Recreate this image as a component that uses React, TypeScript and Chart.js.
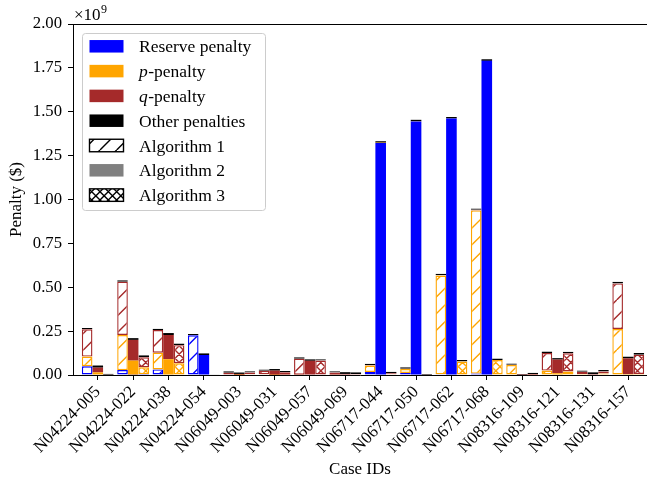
import React, { useEffect, useRef } from 'react';
import { Chart, registerables } from 'chart.js';

Chart.register(...registerables);

// ---------------- data ----------------
const caseIds = [
  'N04224-005', 'N04224-022', 'N04224-038', 'N04224-054',
  'N06049-003', 'N06049-031', 'N06049-057', 'N06049-069',
  'N06717-044', 'N06717-050', 'N06717-062', 'N06717-068',
  'N08316-109', 'N08316-121', 'N08316-131', 'N08316-157',
];
const algorithmNames = ['Algorithm 1', 'Algorithm 2', 'Algorithm 3'];
const componentNames = ['Reserve penalty', 'p-penalty', 'q-penalty', 'Other penalties'];

// Algorithm 1 ($)
const alg1Reserve = [0.050e9, 0.028e9, 0.032e9, 0.226e9, 0, 0, 0, 0, 0.017e9, 0.012e9, 0.004e9, 0.008e9, 0, 0, 0, 0];
const alg1P = [0.055e9, 0.200e9, 0.095e9, 0, 0.003e9, 0.004e9, 0.002e9, 0.002e9, 0.037e9, 0.022e9, 0.563e9, 0.930e9, 0.057e9, 0.025e9, 0.006e9, 0.262e9];
const alg1Q = [0.155e9, 0.304e9, 0.129e9, 0, 0.010e9, 0.020e9, 0.091e9, 0.012e9, 0.003e9, 0.002e9, 0.002e9, 0.003e9, 0.001e9, 0.100e9, 0.012e9, 0.260e9];
const alg1Other = [0.008e9, 0.008e9, 0.007e9, 0.007e9, 0.008e9, 0.008e9, 0.008e9, 0.008e9, 0.007e9, 0.008e9, 0.008e9, 0.008e9, 0.008e9, 0.009e9, 0.008e9, 0.009e9];

// Algorithm 2 ($)
const alg2Reserve = [0.003e9, 0.002e9, 0, 0.114e9, 0, 0, 0, 0, 1.322e9, 1.445e9, 1.462e9, 1.790e9, 0, 0, 0, 0];
const alg2P = [0.012e9, 0.080e9, 0.090e9, 0, 0.001e9, 0.001e9, 0, 0, 0.002e9, 0.001e9, 0, 0, 0, 0.010e9, 0, 0.005e9];
const alg2Q = [0.027e9, 0.118e9, 0.138e9, 0, 0.005e9, 0.024e9, 0.081e9, 0.006e9, 0, 0, 0, 0, 0.001e9, 0.078e9, 0.005e9, 0.090e9];
const alg2Other = [0.012e9, 0.010e9, 0.011e9, 0.009e9, 0.008e9, 0.009e9, 0.008e9, 0.010e9, 0.008e9, 0.008e9, 0.008e9, 0.009e9, 0.003e9, 0.008e9, 0.010e9, 0.009e9];

// Algorithm 3 ($)
const alg3Reserve = [0, 0.005e9, 0, 0, 0, 0, 0, 0, 0, 0, 0, 0, 0, 0, 0, 0];
const alg3P = [0, 0.039e9, 0.067e9, 0, 0.004e9, 0.002e9, 0, 0, 0.004e9, 0, 0.077e9, 0.085e9, 0.001e9, 0.020e9, 0.008e9, 0.006e9];
const alg3Q = [0.002e9, 0.057e9, 0.103e9, 0, 0.010e9, 0.013e9, 0.082e9, 0.006e9, 0.006e9, 0.002e9, 0, 0, 0.004e9, 0.104e9, 0.012e9, 0.110e9];
const alg3Other = [0.005e9, 0.011e9, 0.009e9, 0.002e9, 0.008e9, 0.008e9, 0.008e9, 0.010e9, 0.008e9, 0.004e9, 0.008e9, 0.009e9, 0.008e9, 0.008e9, 0.008e9, 0.009e9];

const yTickStep = 0.25e9;
const yMax = 2.0e9;

// ---------------- styles ----------------
const FONT = "'Liberation Serif', 'DejaVu Serif', serif";
const componentColors = ['#0000ff', '#ffa500', '#a52a2a', '#000000'];
const algorithmLegendFill = ['slash', 'solid', 'cross'];

function makeHatch(color: string, kind: string, lw = 1.4): CanvasPattern | string {
  const T = 50;
  const c = document.createElement('canvas');
  c.width = T;
  c.height = T;
  const g = c.getContext('2d');
  if (!g) return color;
  g.fillStyle = '#ffffff';
  g.fillRect(0, 0, T, T);
  g.strokeStyle = color;
  g.lineWidth = lw;
  const s = kind === 'slash' ? T / 3 : T / 6;
  g.beginPath();
  for (let k = -T; k <= 2 * T + 0.01; k += s) {
    g.moveTo(k, T);
    g.lineTo(k + T, 0);
    if (kind === 'cross') {
      g.moveTo(k, 0);
      g.lineTo(k + T, T);
    }
  }
  g.stroke();
  return g.createPattern(c, 'repeat') || color;
}

const decorPlugin = {
  id: 'decor',
  afterDraw(chart: any) {
    const ctx = chart.ctx as CanvasRenderingContext2D;
    const ca = chart.chartArea;
    ctx.save();
    // top spine
    ctx.strokeStyle = '#000';
    ctx.lineWidth = 1;
    ctx.beginPath();
    ctx.moveTo(ca.left, ca.top + 0.5);
    ctx.lineTo(ca.right, ca.top + 0.5);
    ctx.stroke();

    // offset text  x10^9
    ctx.fillStyle = '#000';
    ctx.textAlign = 'left';
    ctx.textBaseline = 'alphabetic';
    ctx.font = `17px ${FONT}`;
    ctx.fillText('\u00d710', ca.left + 1, ca.top - 4);
    const w = ctx.measureText('\u00d710').width;
    ctx.font = `12px ${FONT}`;
    ctx.fillText('9', ca.left + 1 + w + 0.5, ca.top - 11);

    // legend
    const bx = ca.left + 9.5;
    const by = ca.top + 9.5;
    const bw = 183;
    const bh = 177;
    const r = 3;
    ctx.beginPath();
    ctx.moveTo(bx + r, by);
    ctx.lineTo(bx + bw - r, by);
    ctx.arcTo(bx + bw, by, bx + bw, by + r, r);
    ctx.lineTo(bx + bw, by + bh - r);
    ctx.arcTo(bx + bw, by + bh, bx + bw - r, by + bh, r);
    ctx.lineTo(bx + r, by + bh);
    ctx.arcTo(bx, by + bh, bx, by + bh - r, r);
    ctx.lineTo(bx, by + r);
    ctx.arcTo(bx, by, bx + r, by, r);
    ctx.closePath();
    ctx.fillStyle = 'rgba(255,255,255,0.8)';
    ctx.fill();
    ctx.strokeStyle = '#cccccc';
    ctx.lineWidth = 1;
    ctx.stroke();

    const hx = ca.left + 16.5;
    const hw = 34;
    const hh = 12.5;
    const tx = ca.left + 66;
    const rowY0 = ca.top + 22.3;
    const rowStep = 24.8;
    const items: { label: string; fill: any; edge: string | null }[] = [];
    componentNames.forEach((n, i) => items.push({ label: n, fill: componentColors[i], edge: null }));
    algorithmNames.forEach((n, i) => {
      const kind = algorithmLegendFill[i];
      if (kind === 'solid') items.push({ label: n, fill: '#808080', edge: null });
      else items.push({ label: n, fill: makeHatch('#000000', kind, 1.4), edge: '#000000' });
    });
    items.forEach((it, i) => {
      const cy = rowY0 + i * rowStep;
      ctx.fillStyle = it.fill;
      ctx.fillRect(hx, cy - hh / 2, hw, hh);
      if (it.edge) {
        ctx.strokeStyle = it.edge;
        ctx.lineWidth = 1.4;
        ctx.strokeRect(hx, cy - hh / 2, hw, hh);
      }
      ctx.fillStyle = '#000';
      const base = cy + 6;
      const m = /^([pq])(-.*)$/.exec(it.label);
      if (m) {
        ctx.font = `italic 17.5px ${FONT}`;
        ctx.fillText(m[1], tx, base);
        const iw = ctx.measureText(m[1]).width;
        ctx.font = `17.5px ${FONT}`;
        ctx.fillText(m[2], tx + iw + 0.5, base);
      } else {
        ctx.font = `17.5px ${FONT}`;
        ctx.fillText(it.label, tx, base);
      }
    });
    ctx.restore();
  },
};

export default function App() {
  const ref = useRef<HTMLCanvasElement | null>(null);
  useEffect(() => {
    if (!ref.current) return;
    Chart.defaults.font.family = FONT;
    const algData = [
      [alg1Reserve, alg1P, alg1Q, alg1Other],
      [alg2Reserve, alg2P, alg2Q, alg2Other],
      [alg3Reserve, alg3P, alg3Q, alg3Other],
    ];
    const datasets: any[] = [];
    algData.forEach((comps, a) => {
      comps.forEach((vals, c) => {
        const solid = a === 1;
        datasets.push({
          label: `${algorithmNames[a]} - ${componentNames[c]}`,
          data: vals.map((v, i) => ({ x: i, y: v })),
          stack: 'alg' + a,
          backgroundColor: solid ? componentColors[c] : makeHatch(componentColors[c], a === 0 ? 'slash' : 'cross'),
          borderColor: componentColors[c],
          borderWidth: solid ? 0 : 1.4,
          borderSkipped: false,
          categoryPercentage: 0.9,
          barPercentage: 1.0,
        });
      });
    });

    const chart = new Chart(ref.current, {
      type: 'bar',
      data: { datasets },
      options: {
        responsive: false,
        animation: false,
        layout: { padding: { top: 24, left: 0, right: 0, bottom: 0 } },
        plugins: { legend: { display: false }, tooltip: { enabled: false } },
        scales: {
          x: {
            type: 'linear',
            min: -0.7,
            max: 15.53,
            offset: false,
            bounds: 'data',
            grid: { offset: false, drawOnChartArea: false, drawTicks: true, tickLength: 5, color: '#000', tickWidth: 1 },
            border: { display: true, color: '#000', width: 1 },
            ticks: {
              autoSkip: false,
              minRotation: 45,
              maxRotation: 45,
              padding: 2,
              color: '#000',
              font: { size: 17, family: FONT },
              callback: (v: any) => caseIds[v as number] ?? '',
            },
            afterBuildTicks: (s: any) => {
              s.ticks = caseIds.map((_, i) => ({ value: i }));
            },
            afterFit: (s: any) => {
              s.height = 106;
            },
            title: { display: true, text: 'Case IDs', color: '#000', font: { size: 17, family: FONT }, padding: { top: 0, bottom: 1 } },
          },
          y: {
            type: 'linear',
            stacked: true,
            min: 0,
            max: yMax,
            grid: { drawOnChartArea: false, drawTicks: true, tickLength: 5, color: '#000', tickWidth: 1 },
            border: { display: true, color: '#000', width: 1 },
            ticks: {
              stepSize: yTickStep,
              padding: 6,
              color: '#000',
              font: { size: 16.7, family: FONT },
              callback: (v: any) => ((v as number) / 1e9).toFixed(2),
            },
            afterFit: (s: any) => {
              s.width = 73;
            },
            title: { display: true, text: 'Penalty ($)', color: '#000', font: { size: 17, family: FONT }, padding: { top: 6, bottom: 0 } },
          },
        },
      } as any,
      plugins: [decorPlugin],
    });
    return () => chart.destroy();
  }, []);

  return (
    <div style={{ position: 'absolute', left: 0, top: 0, width: 647, height: 481 }}>
      <canvas ref={ref} width={647} height={481} style={{ display: 'block' }} />
    </div>
  );
}
